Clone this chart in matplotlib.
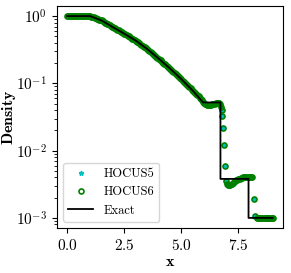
import numpy as np
import matplotlib
matplotlib.use("Agg")
import matplotlib.pyplot as plt

plt.rcParams['font.family'] = 'serif'
plt.rcParams['font.serif'] = ['cmr10']
plt.rcParams['mathtext.fontset'] = 'cm'
plt.rcParams['axes.formatter.use_mathtext'] = True
plt.rcParams['axes.unicode_minus'] = False

# numerical solution (HOCUS5 and HOCUS6 lie on top of each other at this size)
x_smooth = np.round(np.arange(0.0, 6.725, 0.05), 2)
rho_smooth = [1.0] * 20 + [
    0.995, 0.986,
    0.973, 0.958, 0.944, 0.930, 0.916, 0.902, 0.889, 0.875, 0.861, 0.841,
    0.822, 0.803, 0.785, 0.767, 0.750, 0.733, 0.716, 0.700, 0.684, 0.669,
    0.655, 0.641, 0.627, 0.612, 0.598, 0.585, 0.573, 0.560, 0.547, 0.534,
    0.522, 0.510, 0.499, 0.487, 0.475, 0.464, 0.453, 0.442, 0.432, 0.419,
    0.407, 0.396, 0.385, 0.374, 0.363, 0.353, 0.343, 0.333, 0.324, 0.313,
    0.303, 0.293, 0.284, 0.275, 0.267, 0.258, 0.250, 0.242, 0.234, 0.226,
    0.219, 0.211, 0.204, 0.197, 0.191, 0.184, 0.178, 0.172, 0.166, 0.160,
    0.154, 0.148, 0.143, 0.138, 0.133, 0.128, 0.124, 0.119, 0.115, 0.110,
    0.106, 0.102, 0.0982, 0.0944, 0.0908, 0.0873, 0.0839, 0.0807, 0.0776, 0.0746,
    0.0718, 0.0690, 0.0664, 0.0638, 0.0614, 0.0588, 0.0560, 0.0532, 0.0505, 0.0488,
    0.0478, 0.0473, 0.0472, 0.0478, 0.0485, 0.0490, 0.0495, 0.0500, 0.0505, 0.0507,
    0.0508, 0.0505, 0.0500]
x_contact = [6.73, 6.76, 6.79, 6.83, 6.87, 6.91, 6.95]
rho_contact = [0.0443, 0.0405, 0.0323, 0.0215, 0.0123, 0.0060, 0.0035]
x_mid = np.round(np.arange(7.0, 8.125, 0.05), 2)
rho_mid = [0.0032, 0.0031, 0.0031, 0.0031, 0.0032, 0.0033, 0.0034, 0.0035,
           0.0036, 0.0037, 0.0038, 0.0038, 0.0039, 0.0039, 0.0040, 0.0040,
           0.0040, 0.0040, 0.0040, 0.0040, 0.0040, 0.0040, 0.0040]
x_shock = [8.16, 8.21]
rho_shock = [0.0019, 0.00105]
x_right = np.round(np.arange(8.3, 9.025, 0.05), 2)
rho_right = [0.001] * len(x_right)

x_num = np.concatenate([x_smooth, x_contact, x_mid, x_shock, x_right])
rho_hocus6 = np.concatenate([rho_smooth, rho_contact, rho_mid, rho_shock, rho_right])
rho_hocus5 = rho_hocus6.copy()

# exact solution
x_exact = [0.0, 1.0, 1.5, 2.0, 2.5, 3.0, 3.5, 4.0, 4.5, 5.0, 5.5, 5.95,
           6.71, 6.71, 7.94, 7.94, 9.0]
rho_exact = [1.0, 1.0, 0.861, 0.684, 0.547, 0.432, 0.324, 0.234, 0.166, 0.115, 0.0776, 0.052,
             0.052, 0.0038, 0.0038, 0.001, 0.001]

fig = plt.figure(figsize=(2.91, 2.73), dpi=100)
ax = fig.add_axes([57 / 291, 45 / 273, 226 / 291, 222 / 273])

ax.plot(x_num, rho_hocus5, linestyle='none', marker='*', color='c', markersize=3.5,
        label='HOCUS5')
ax.plot(x_num, rho_hocus6, linestyle='none', marker='o', markerfacecolor='none',
        markeredgecolor='g', markeredgewidth=1.2, markersize=3.6, label='HOCUS6')
ax.plot(x_exact, rho_exact, color='k', linewidth=1.3, label='Exact')

ax.set_yscale('log')
ax.set_xticks([0.0, 2.5, 5.0, 7.5])
ax.tick_params(labelsize=11)
ax.set_xlabel(r'$\mathbf{x}$', fontsize=11.5)
ax.set_ylabel(r'$\mathbf{Density}$', fontsize=11.5)
ax.xaxis.set_label_coords(0.5, -0.125)
ax.yaxis.set_label_coords(-0.172, 0.5)
ax.legend(loc='lower left', fontsize=9)

fig.savefig('out.png', dpi=100)
